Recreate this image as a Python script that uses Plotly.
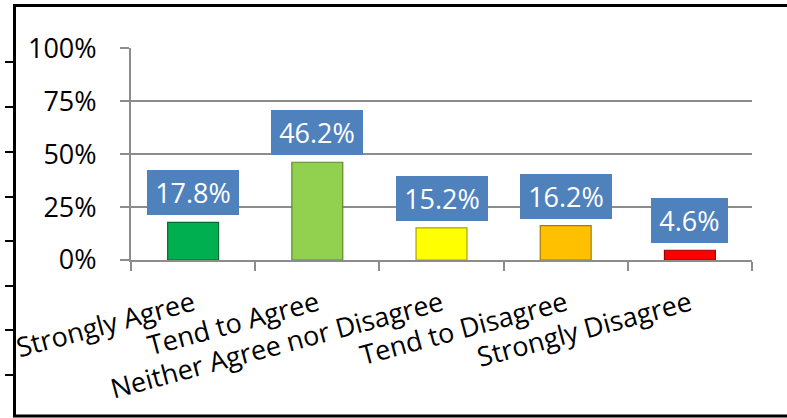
import plotly.graph_objects as go

categories = ["Strongly Agree", "Tend to Agree", "Neither Agree nor Disagree",
              "Tend to Disagree", "Strongly Disagree"]
values = [0.178, 0.462, 0.152, 0.162, 0.046]
value_labels = ["17.8%", "46.2%", "15.2%", "16.2%", "4.6%"]
bar_colors = ["#00B050", "#92D050", "#FFFF00", "#FFC000", "#FF0000"]
bar_edges = ["#006B30", "#5E8A2C", "#A6A600", "#A67C00", "#A00000"]
y_ticks = [0, 0.25, 0.5, 0.75, 1.0]
y_tick_text = ["0%", "25%", "50%", "75%", "100%"]

FONT = "Open Sans"
GRID = "#8C8C8C"

# layout geometry (pixels)
L, R, T, B = 126, 35, 48, 158
W, H = 787, 418

fig = go.Figure()
fig.add_trace(go.Bar(
    x=categories, y=values, width=0.41,
    marker=dict(color=bar_colors, line=dict(color=bar_edges, width=1.2)),
    hoverinfo="skip", showlegend=False,
))

for c, v, t in zip(categories, values, value_labels):
    fig.add_annotation(
        x=c, y=v, xref="x", yref="y", text=t, showarrow=False,
        yanchor="bottom", yshift=7,
        bgcolor="#4F81BD", borderwidth=0, borderpad=6,
        width=80 if len(t) >= 5 else 65, height=33,
        font=dict(family=FONT, size=27, color="white"),
    )

shapes = []
# outer black frame (pixel offsets from plot-area origin)
shapes.append(dict(
    type="rect", xref="paper", yref="paper",
    xsizemode="pixel", ysizemode="pixel", xanchor=0, yanchor=0,
    x0=9.5 - L, x1=784.5 - L, y0=(H - B) - 416, y1=(H - B) - 5.5,
    line=dict(color="black", width=3), fillcolor="rgba(0,0,0,0)", layer="above",
))
# small marks left of the frame
for py in [62, 107, 152, 197, 241, 286, 330, 375]:
    shapes.append(dict(
        type="line", xref="paper", yref="paper",
        xsizemode="pixel", ysizemode="pixel", xanchor=0, yanchor=0,
        x0=0 - L, x1=9 - L, y0=(H - B) - py, y1=(H - B) - py,
        line=dict(color="black", width=2),
    ))

fig.update_layout(
    width=W, height=H,
    margin=dict(l=L, r=R, t=T, b=B, pad=0),
    paper_bgcolor="white", plot_bgcolor="white",
    font=dict(family=FONT, size=27, color="black"),
    bargap=0.59,
    shapes=shapes,
)
fig.update_xaxes(
    type="category", showline=True, linecolor=GRID, linewidth=2,
    ticks="outside", tickson="boundaries", ticklen=9, tickwidth=2, tickcolor=GRID,
    tickangle=-15, showgrid=False, ticklabelstandoff=16,
    tickfont=dict(family=FONT, size=27, color="black"),
)
fig.update_yaxes(
    range=[0, 1.002], tickvals=y_ticks, ticktext=y_tick_text,
    showline=True, linecolor=GRID, linewidth=2,
    ticks="outside", ticklen=9, tickwidth=2, tickcolor=GRID,
    showgrid=True, gridcolor=GRID, gridwidth=2, zeroline=False,
    ticklabelstandoff=18,
    tickfont=dict(family=FONT, size=27, color="black"),
)

fig.write_html("out.html", config={"displayModeBar": False},
               post_script="document.body.style.margin='0';")
